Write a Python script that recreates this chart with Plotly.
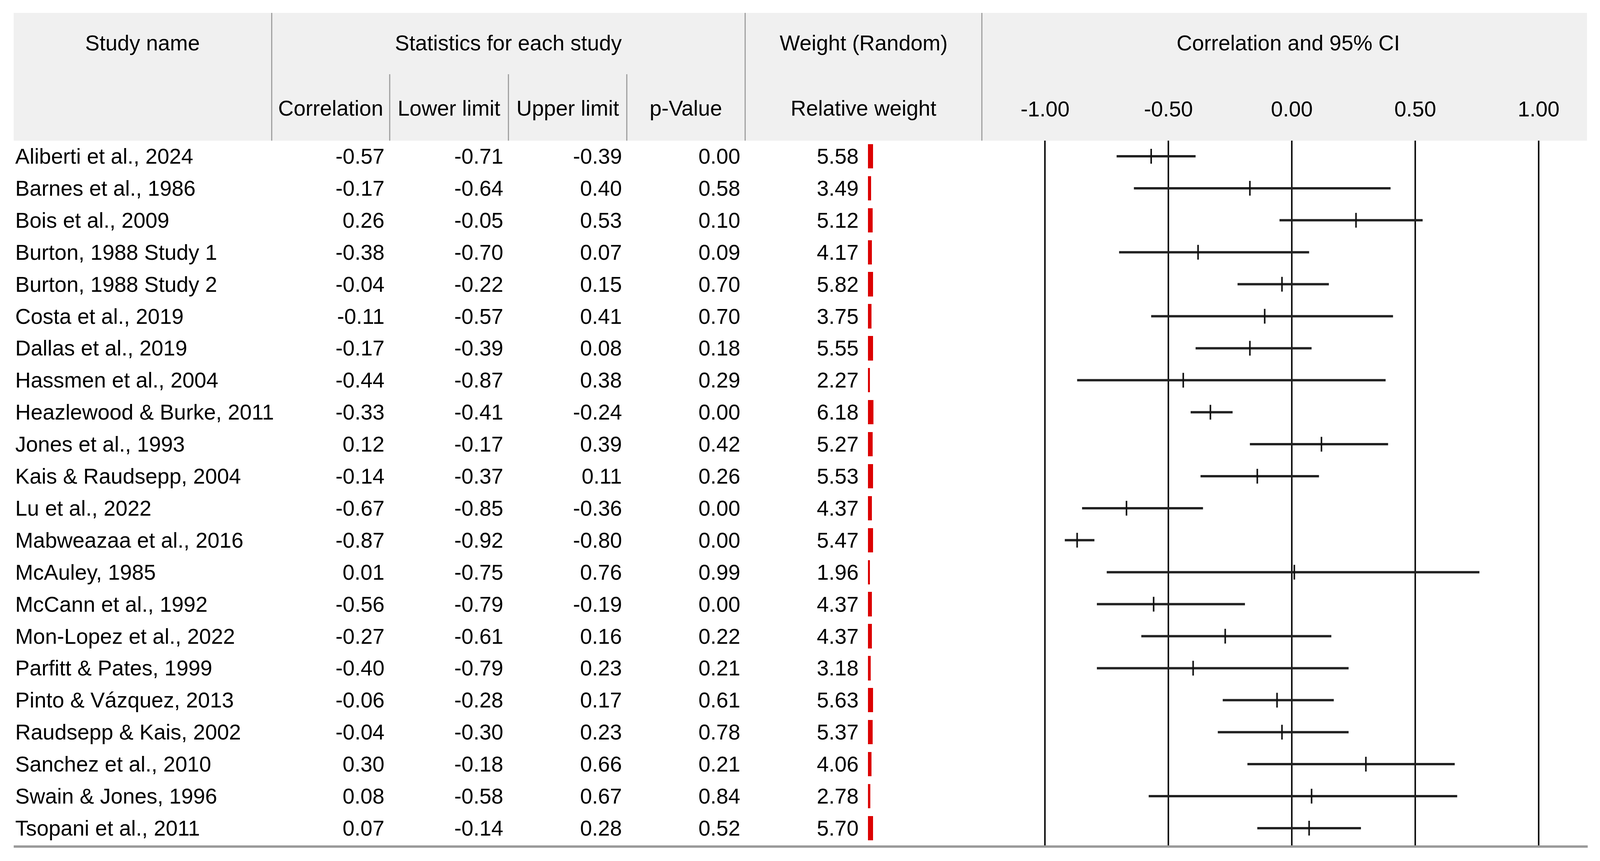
import plotly.graph_objects as go

# forest plot table: correlation, 95% CI, p-value and random-effects weight
studies = [
    "Aliberti et al., 2024", "Barnes et al., 1986", "Bois et al., 2009",
    "Burton, 1988 Study 1", "Burton, 1988 Study 2", "Costa et al., 2019",
    "Dallas et al., 2019", "Hassmen et al., 2004", "Heazlewood & Burke, 2011",
    "Jones et al., 1993", "Kais & Raudsepp, 2004", "Lu et al., 2022",
    "Mabweazaa et al., 2016", "McAuley, 1985", "McCann et al., 1992",
    "Mon-Lopez et al., 2022", "Parfitt & Pates, 1999", "Pinto & Vázquez, 2013",
    "Raudsepp & Kais, 2002", "Sanchez et al., 2010", "Swain & Jones, 1996",
    "Tsopani et al., 2011",
]
corr = [-0.57, -0.17, 0.26, -0.38, -0.04, -0.11, -0.17, -0.44, -0.33, 0.12, -0.14,
        -0.67, -0.87, 0.01, -0.56, -0.27, -0.40, -0.06, -0.04, 0.30, 0.08, 0.07]
lower = [-0.71, -0.64, -0.05, -0.70, -0.22, -0.57, -0.39, -0.87, -0.41, -0.17, -0.37,
         -0.85, -0.92, -0.75, -0.79, -0.61, -0.79, -0.28, -0.30, -0.18, -0.58, -0.14]
upper = [-0.39, 0.40, 0.53, 0.07, 0.15, 0.41, 0.08, 0.38, -0.24, 0.39, 0.11,
         -0.36, -0.80, 0.76, -0.19, 0.16, 0.23, 0.17, 0.23, 0.66, 0.67, 0.28]
pval = [0.00, 0.58, 0.10, 0.09, 0.70, 0.70, 0.18, 0.29, 0.00, 0.42, 0.26,
        0.00, 0.00, 0.99, 0.00, 0.22, 0.21, 0.61, 0.78, 0.21, 0.84, 0.52]
weight = [5.58, 3.49, 5.12, 4.17, 5.82, 3.75, 5.55, 2.27, 6.18, 5.27, 5.53,
          4.37, 5.47, 1.96, 4.37, 4.37, 3.18, 5.63, 5.37, 4.06, 2.78, 5.70]
tick_vals = [-1.0, -0.5, 0.0, 0.5, 1.0]
tick_text = ["-1.00", "-0.50", "0.00", "0.50", "1.00"]

# layout worked out on a 4434x2204 sheet; the figure fills the page width
REF_W = 4434
VIEW_W = 4096          # width the page actually gets photographed at
S = VIEW_W / REF_W
FIG_H = 2188           # 2204 minus the 8px body margins
FONT = "Liberation Sans, Arial, sans-serif"
FS = 55
rows = list(range(len(studies)))


def px(x):
    return (x * S - 8) / (VIEW_W - 16)


def py(y):
    return 1 - (y - 8) / FIG_H


fig = go.Figure()

# CI lines with point estimate ticks
fig.add_trace(go.Scatter(
    x=corr, y=rows, mode="markers",
    marker=dict(symbol="line-ns", size=27, color="#111111",
                line=dict(width=4, color="#111111")),
    error_x=dict(type="data", symmetric=False,
                 array=[u - c for u, c in zip(upper, corr)],
                 arrayminus=[c - l for c, l in zip(corr, lower)],
                 width=0, thickness=6, color="#222222"),
    showlegend=False, hoverinfo="skip",
))

# relative weight bars
fig.add_trace(go.Bar(
    x=weight, y=rows, orientation="h", base=0, width=0.76,
    marker=dict(color="#dc0000", line=dict(width=0)),
    xaxis="x2", yaxis="y", showlegend=False, hoverinfo="skip",
))

y_top, y_bot = 360, 2167
row0, row_step = 400, 81.9
fig.update_layout(
    height=FIG_H, autosize=True,
    margin=dict(l=0, r=0, t=0, b=0, pad=0),
    paper_bgcolor="white", plot_bgcolor="white",
    font=dict(family=FONT, size=FS, color="black"),
    xaxis=dict(domain=[px(2721), px(4398)], range=[-1.256, 1.196],
               side="top", tickvals=tick_vals, ticktext=tick_text,
               ticks="", ticklabelstandoff=50,
               showgrid=True, gridcolor="#111111", gridwidth=4,
               zeroline=False, showline=False, anchor="y",
               tickfont=dict(family=FONT, size=FS, color="black")),
    xaxis2=dict(domain=[px(2405), px(2480)], range=[0, 30], visible=False,
                anchor="y", showgrid=False),
    yaxis=dict(domain=[py(y_bot), py(y_top)],
               range=[(y_bot - row0) / row_step, (y_top - row0) / row_step],
               visible=False, showgrid=False, zeroline=False),
    bargap=0,
)

shapes = []
# header band
shapes.append(dict(type="rect", xref="paper", yref="paper",
                   x0=px(38), x1=px(4398), y0=py(360), y1=py(33),
                   fillcolor="#f0f0f0", line=dict(width=0), layer="below"))
for xd in [753, 2065, 2721]:
    shapes.append(dict(type="line", xref="paper", yref="paper",
                       x0=px(xd), x1=px(xd), y0=py(360), y1=py(33),
                       line=dict(color="#a0a0a0", width=3)))
for xd in [1080, 1409, 1737]:
    shapes.append(dict(type="line", xref="paper", yref="paper",
                       x0=px(xd), x1=px(xd), y0=py(360), y1=py(190),
                       line=dict(color="#a0a0a0", width=3)))
# bottom rule
shapes.append(dict(type="line", xref="paper", yref="paper",
                   x0=px(38), x1=px(4400), y0=py(y_bot), y1=py(y_bot),
                   line=dict(color="#9a9a9a", width=6)))
fig.update_layout(shapes=shapes)

ann = []
def head(text, xc, yc):
    ann.append(dict(text=text, x=px(xc), y=py(yc), xref="paper", yref="paper",
                    xanchor="center", yanchor="middle", showarrow=False,
                    font=dict(family=FONT, size=FS, color="black")))

head("Study name", 395, 110)
head("Statistics for each study", 1409, 110)
head("Weight (Random)", 2393, 110)
head("Correlation and 95% CI", 3570, 110)
head("Correlation", 916, 277)
head("Lower limit", 1244, 277)
head("Upper limit", 1573, 277)
head("p-Value", 1901, 277)
head("Relative weight", 2393, 277)

# table body
cols = [(corr, 1067), (lower, 1396), (upper, 1726), (pval, 2054), (weight, 2382)]
for i in rows:
    ann.append(dict(text=studies[i], x=px(40), y=i, xref="paper", yref="y",
                    xanchor="left", yanchor="middle", showarrow=False))
    for vals, xr in cols:
        ann.append(dict(text=f"{vals[i]:.2f}", x=px(xr), y=i, xref="paper",
                        yref="y", xanchor="right", yanchor="middle",
                        showarrow=False))
fig.update_layout(annotations=ann)

fig.write_html("out.html")
